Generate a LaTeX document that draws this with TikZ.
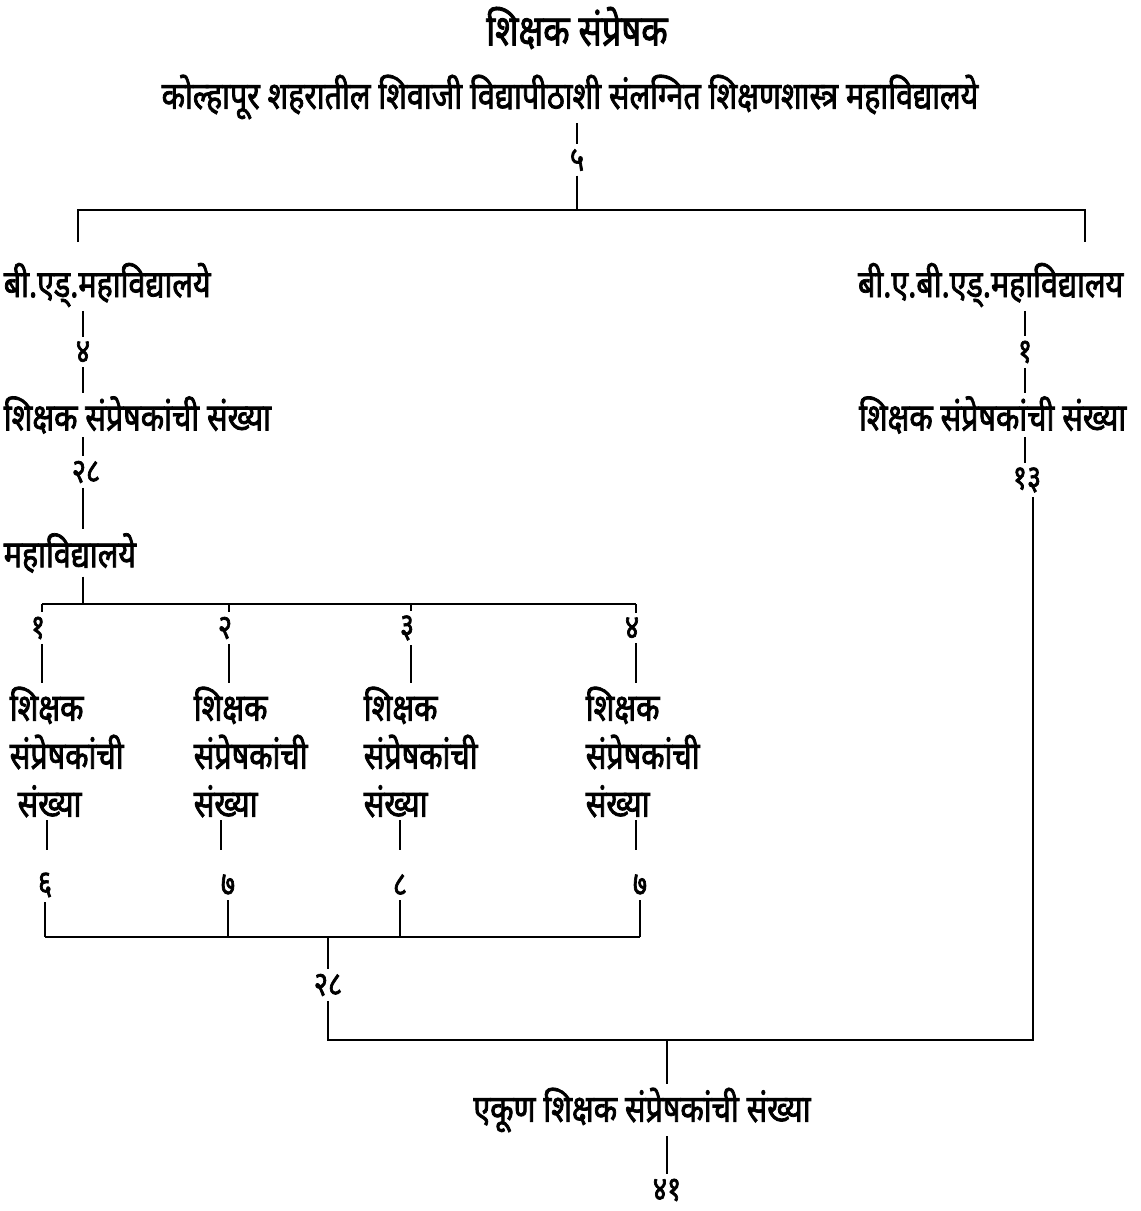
\documentclass[tikz,border=0pt]{standalone}
\usepackage{fontspec}
\newfontfamily\devfont[Script=Devanagari,FakeStretch=0.8,FakeBold=2]{Noto Sans}
\usetikzlibrary{positioning}
\tikzset{x=1pt, y=-1pt, % one unit is one pixel of the scan
every node/.style={ % Sets the properties for each label
inner sep=3pt,
font=\devfont\fontsize{38}{48}\selectfont},
num/.style={ % the counts between the labels
inner sep=4pt,
font=\devfont\fontsize{34}{36}\selectfont},
col/.style={ % the four college columns
align=left, anchor=west},
every path/.style={line width=1.6pt}}
\begin{document}
\begin{tikzpicture}
    \useasboundingbox (0,0) rectangle (1141,1211);

    \node[font=\devfont\fontsize{43}{48}\selectfont] (title) at (577,28) {शिक्षक संप्रेषक};
    \node (univ) at (570,97) {कोल्हापूर शहरातील शिवाजी विद्यापीठाशी संलग्नित शिक्षणशास्त्र महाविद्यालये};
    \node[num] (n5) at (577,160) {५};
    \coordinate (top) at (577,210);
    \coordinate (topl) at (78,210);
    \coordinate (topr) at (1085,210);
    \coordinate (dropl) at (78,242);
    \coordinate (dropr) at (1085,242);

    \draw (univ.south -| n5) -- (n5);
    \draw (n5) -- (top);
    \draw (dropl) -- (topl) -- (topr) -- (dropr);

    % left branch
    \node[anchor=west] (bed) at (0,285) {बी.एड्.महाविद्यालये};
    \node[num] (n4) at (83,352) {४};
    \node[anchor=west] (tcl) at (0,415) {शिक्षक संप्रेषकांची संख्या};
    \node[num] (n28a) at (86,472) {२८};
    \node[anchor=west] (colls) at (0,553) {महाविद्यालये};

    \draw (bed.south -| n4) -- (n4);
    \draw (n4) -- (tcl.north -| n4);
    \draw (tcl.south -| n4) -- (n4 |- n28a.north);
    \draw (n4 |- n28a.south) -- (colls.north -| n4);

    \coordinate (mid) at (83,604);
    \coordinate (midl) at (42,604);
    \coordinate (midr) at (636,604);
    \draw (colls.south -| mid) -- (mid);
    \draw (midl) -- (midr);

    \coordinate (low) at (328,937);
    \coordinate (lowl) at (45,937);
    \coordinate (lowr) at (640,937);
    \draw (lowl) -- (lowr);

    \foreach \i/\k/\bx/\tx/\lx/\v/\vx in {1/१/42/6/47/६/45, 2/२/229/190/221/७/228, 3/३/411/360/400/८/400, 4/४/636/582/636/७/640}{
        \coordinate (b\i) at (\bx,604);
        \coordinate (d\i) at (\lx,820);
        \coordinate (e\i) at (\lx,850);
        \node[num] (k\i) at (\bx-4,628) {\k};
        \node[col] (t\i) at (\tx,752) {शिक्षक\\संप्रेषकांची\\\ifnum\i=1\ \fi संख्या};
        \node[num] (v\i) at (\vx,885) {\v};
        \draw (b\i) -- (b\i |- k\i.north);
        \draw (b\i |- k\i.south) -- (t\i.north -| b\i);
        \draw (d\i) -- (e\i);
        \draw (v\i.south) -- (v\i |- low);
    }

    % right branch
    \node[anchor=east] (babed) at (1127,285) {बी.ए.बी.एड्.महाविद्यालय};
    \node[num] (n1) at (1025,352) {१};
    \node[anchor=east] (tcr) at (1130,415) {शिक्षक संप्रेषकांची संख्या};
    \node[num] (n13) at (1027,480) {१३};

    \draw (babed.south -| n1) -- (n1);
    \draw (n1) -- (tcr.north -| n1);
    \draw (tcr.south -| n1) -- (n1 |- n13.north);

    % totals
    \node[num] (n28b) at (328,985) {२८};
    \coordinate (sum) at (328,1040);
    \coordinate (sumr) at (1033,1040);
    \coordinate (summ) at (667,1040);
    \node (total) at (642,1110) {एकूण शिक्षक संप्रेषकांची संख्या};
    \node[num] (n41) at (667,1190) {४१};

    \draw (low) -- (n28b);
    \draw (n28b) -- (sum) -- (sumr) -- (sumr |- n13.south);
    \draw (summ) -- (total.north -| summ);
    \draw (total.south -| n41) -- (n41);

\end{tikzpicture}
\end{document}
